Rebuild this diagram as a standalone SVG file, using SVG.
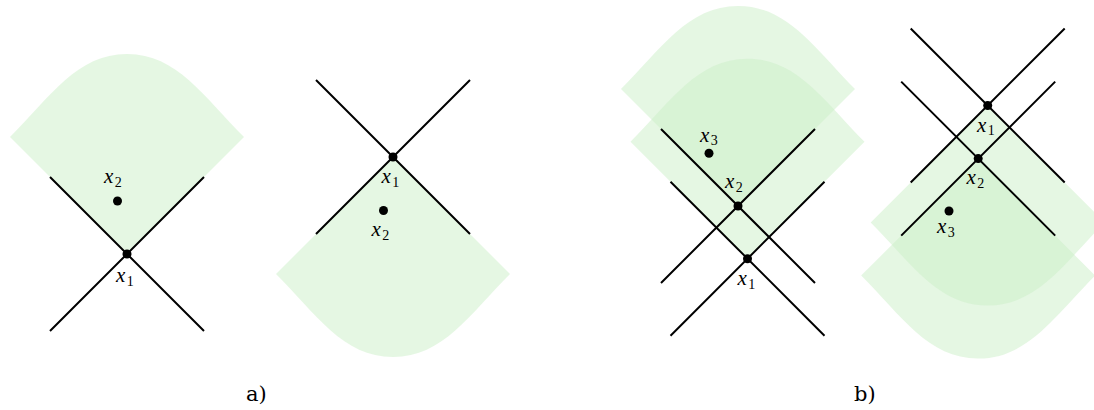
<svg xmlns="http://www.w3.org/2000/svg" xmlns:xlink="http://www.w3.org/1999/xlink" width="1094" height="410" viewBox="0 0 1094 410">
<style>
.cone{fill:#cbefc7;fill-opacity:0.5;stroke:none}
.lc{fill:none;stroke:#000;stroke-width:2}
.ev{fill:#000}
.lbl{font-family:"Liberation Serif",serif;fill:#000}
.m{font-style:italic;font-size:21px}
.s{font-size:14px}
.cap{font-family:"DejaVu Serif",serif;font-size:21px;fill:#000}
</style>
<defs>
<path id="cone" d="M0,0 L-117,-117 C-77,-157 -50,-200 0,-200 C50,-200 77,-157 117,-117 Z"/>
<path id="x" d="M-77,-77 L77,77 M-77,77 L77,-77"/>
</defs>
<rect width="1094" height="410" fill="#fff"/>
<g id="panel-a1">
<use xlink:href="#cone" class="cone" transform="translate(127,254)"/>
<g id="connectors-a1"><use xlink:href="#x" class="lc" transform="translate(127,254)"/></g>
<g id="a1-x1"><circle class="ev" cx="127" cy="254" r="4.5"/><text class="lbl" x="116" y="282"><tspan class="m">x</tspan><tspan class="s" dx="1.5" dy="3.5">1</tspan></text></g>
<g id="a1-x2"><circle class="ev" cx="117.5" cy="201" r="4.5"/><text class="lbl" x="104" y="183"><tspan class="m">x</tspan><tspan class="s" dx="1.5" dy="3.5">2</tspan></text></g>
</g>
<g id="panel-a2">
<use xlink:href="#cone" class="cone" transform="translate(393,157) scale(1,-1)"/>
<g id="connectors-a2"><use xlink:href="#x" class="lc" transform="translate(393,157)"/></g>
<g id="a2-x1"><circle class="ev" cx="393" cy="157" r="4.5"/><text class="lbl" x="381.5" y="183"><tspan class="m">x</tspan><tspan class="s" dx="1.5" dy="3.5">1</tspan></text></g>
<g id="a2-x2"><circle class="ev" cx="383.5" cy="210.5" r="4.5"/><text class="lbl" x="371.5" y="236"><tspan class="m">x</tspan><tspan class="s" dx="1.5" dy="3.5">2</tspan></text></g>
</g>
<g id="panel-b1">
<use xlink:href="#cone" class="cone" transform="translate(738,206)"/>
<use xlink:href="#cone" class="cone" transform="translate(747.5,258.7)"/>
<g id="connectors-b1">
<use xlink:href="#x" class="lc" transform="translate(738,206)"/>
<use xlink:href="#x" class="lc" transform="translate(747.5,258.7)"/>
</g>
<g id="b1-x1"><circle class="ev" cx="747.5" cy="258.7" r="4.5"/><text class="lbl" x="737.5" y="285"><tspan class="m">x</tspan><tspan class="s" dx="1.5" dy="3.5">1</tspan></text></g>
<g id="b1-x2"><circle class="ev" cx="738" cy="206" r="4.5"/><text class="lbl" x="725" y="188"><tspan class="m">x</tspan><tspan class="s" dx="1.5" dy="3.5">2</tspan></text></g>
<g id="b1-x3"><circle class="ev" cx="709" cy="153.3" r="4.5"/><text class="lbl" x="700" y="141.5"><tspan class="m">x</tspan><tspan class="s" dx="1.5" dy="3.5">3</tspan></text></g>
</g>
<g id="panel-b2">
<use xlink:href="#cone" class="cone" transform="translate(978.2,158.6) scale(1,-1)"/>
<use xlink:href="#cone" class="cone" transform="translate(987.7,105.5) scale(1,-1)"/>
<g id="connectors-b2">
<use xlink:href="#x" class="lc" transform="translate(987.7,105.5)"/>
<use xlink:href="#x" class="lc" transform="translate(978.2,158.6)"/>
</g>
<g id="b2-x1"><circle class="ev" cx="987.7" cy="105.5" r="4.5"/><text class="lbl" x="977" y="131.5"><tspan class="m">x</tspan><tspan class="s" dx="1.5" dy="3.5">1</tspan></text></g>
<g id="b2-x2"><circle class="ev" cx="978.2" cy="158.6" r="4.5"/><text class="lbl" x="966.5" y="184"><tspan class="m">x</tspan><tspan class="s" dx="1.5" dy="3.5">2</tspan></text></g>
<g id="b2-x3"><circle class="ev" cx="949" cy="211" r="4.5"/><text class="lbl" x="937" y="233"><tspan class="m">x</tspan><tspan class="s" dx="1.5" dy="3.5">3</tspan></text></g>
</g>
<text class="cap" x="246" y="401">a)</text>
<text class="cap" x="854" y="401">b)</text>
</svg>
